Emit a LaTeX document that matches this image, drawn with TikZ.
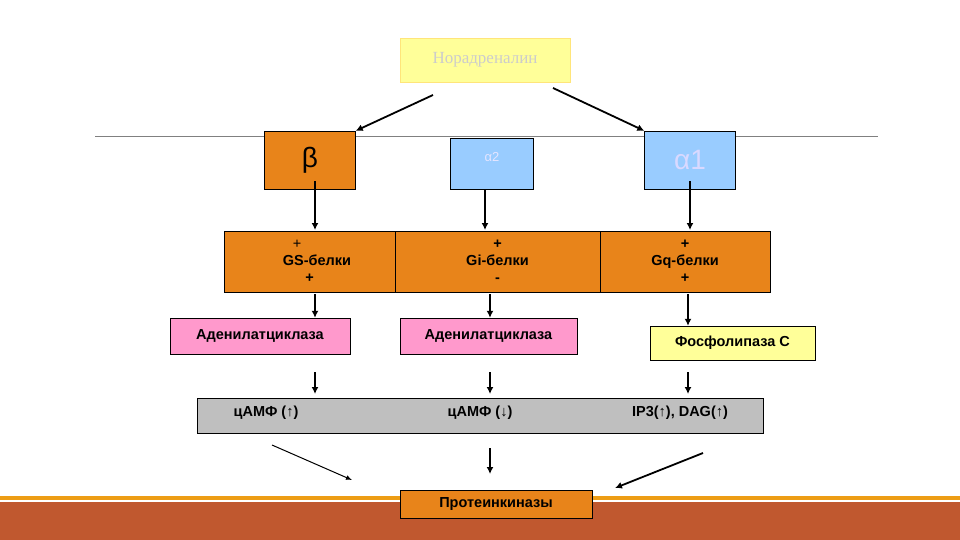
\documentclass[tikz,border=0pt]{standalone}
\usepackage{fontspec}
\usetikzlibrary{arrows.meta}
\setmainfont{Liberation Sans}
\newfontfamily\serifnode{Liberation Serif}
\begin{document}
\begin{tikzpicture}[x=1pt,y=-1pt,
    box/.style={draw,inner sep=0pt},
    arr/.style={-{Latex[length=7pt,width=7pt]},line width=1.8pt},
    lbl/.style={font=\bfseries\fontsize{14.5}{17}\selectfont}]
\definecolor{orng}{HTML}{E8841A}
\definecolor{lblue}{HTML}{99CCFF}
\definecolor{lpink}{HTML}{FF99CC}
\definecolor{lyell}{HTML}{FFFF99}
\definecolor{band}{HTML}{C0582F}
\useasboundingbox (0,0) rectangle (960,540);
\fill[white] (0,0) rectangle (960,540);

		% background
		\draw[gray] (95,136) -- (878,136);
		\fill[orng!80!yellow] (0,496) rectangle (960,500);
		\fill[band] (0,502) rectangle (960,540);

		% receptors
		\node[box,draw=lyell!80!orange,fill=lyell,minimum width=170,minimum height=44,
		      text=black!20,font=\serifnode\fontsize{17}{19}\selectfont] (nor) at (485,60) {Норадреналин};
		\node[box,fill=orng,minimum width=91,minimum height=58,font=\fontsize{28}{30}\selectfont] (beta) at (310,160) {β};
		\node[box,fill=lblue,minimum width=83,minimum height=51,text=white!90!blue,
		      font=\fontsize{13}{15}\selectfont,anchor=north] (a2) at (492,138) {\raisebox{14pt}{α2}};
		\node[box,fill=lblue,minimum width=91,minimum height=58,text=white!85!blue,
		      font=\fontsize{28}{30}\selectfont] (a1) at (690,160) {α1};

		% G-proteins
		\node[box,fill=orng,minimum width=171,minimum height=61,align=center,lbl] (gs) at (309.5,261.5)
		      {\hspace*{-25pt}{\mdseries +}\\ \hspace*{15pt}GS-белки\\ +};
		\node[box,fill=orng,minimum width=205,minimum height=61,align=center,lbl] (gi) at (497.5,261.5)
		      {+\\ Gi-белки\\ -};
		\node[box,fill=orng,minimum width=170,minimum height=61,align=center,lbl] (gq) at (685,261.5)
		      {+\\ Gq-белки\\ +};

		% enzymes
		\node[box,fill=lpink,minimum width=180,minimum height=36,lbl] (ac1) at (260,336) {Аденилатциклаза};
		\node[box,fill=lpink,minimum width=177,minimum height=36,lbl] (ac2) at (488.5,336) {Аденилатциклаза};
		\node[box,fill=lyell,minimum width=165,minimum height=34,lbl] (plc) at (732.5,343) {Фосфолипаза С};

		% second messengers
		\node[box,fill=black!25,minimum width=566,minimum height=35] (sm) at (480,415.5) {};
		\node[lbl] (camp1) at (266,413) {цАМФ (↑)};
		\node[lbl] (camp2) at (480,413) {цАМФ (↓)};
		\node[lbl] (ip3) at (680,413) {IP3({\mdseries↑}), DAG({\mdseries↑})};

		\node[box,fill=orng,minimum width=192,minimum height=28,lbl] (pk) at (496,504) {Протеинкиназы};

		% arrows
		\coordinate (n1) at (433,95);
		\coordinate (n2) at (553,88);
		\draw[arr] (n1) -- (beta.north east);
		\draw[arr] (n2) -- (a1.north west);
		\draw[arr] ([yshift=8]beta.south -| 315,0) -- (315,230);
		\draw[arr] (a2.south -| 485,0) -- (485,230);
		\draw[arr] ([yshift=8]a1.south) -- (690,230);
		\draw[arr] (315,294) -- (ac1.north -| 315,0);
		\draw[arr] (490,294) -- (ac2.north -| 490,0);
		\draw[arr] (688,294) -- (plc.north -| 688,0);
		\draw[arr] (315,372) -- (315,394);
		\draw[arr] (490,372) -- (490,394);
		\draw[arr] (688,372) -- (688,394);
		\draw[-{Latex[length=6pt,width=5pt]},line width=1pt] (272,445) -- (352,480);
		\draw[arr] (490,448) -- (490,474);
		\draw[arr] (703,453) -- (615,488);
\end{tikzpicture}
\end{document}
